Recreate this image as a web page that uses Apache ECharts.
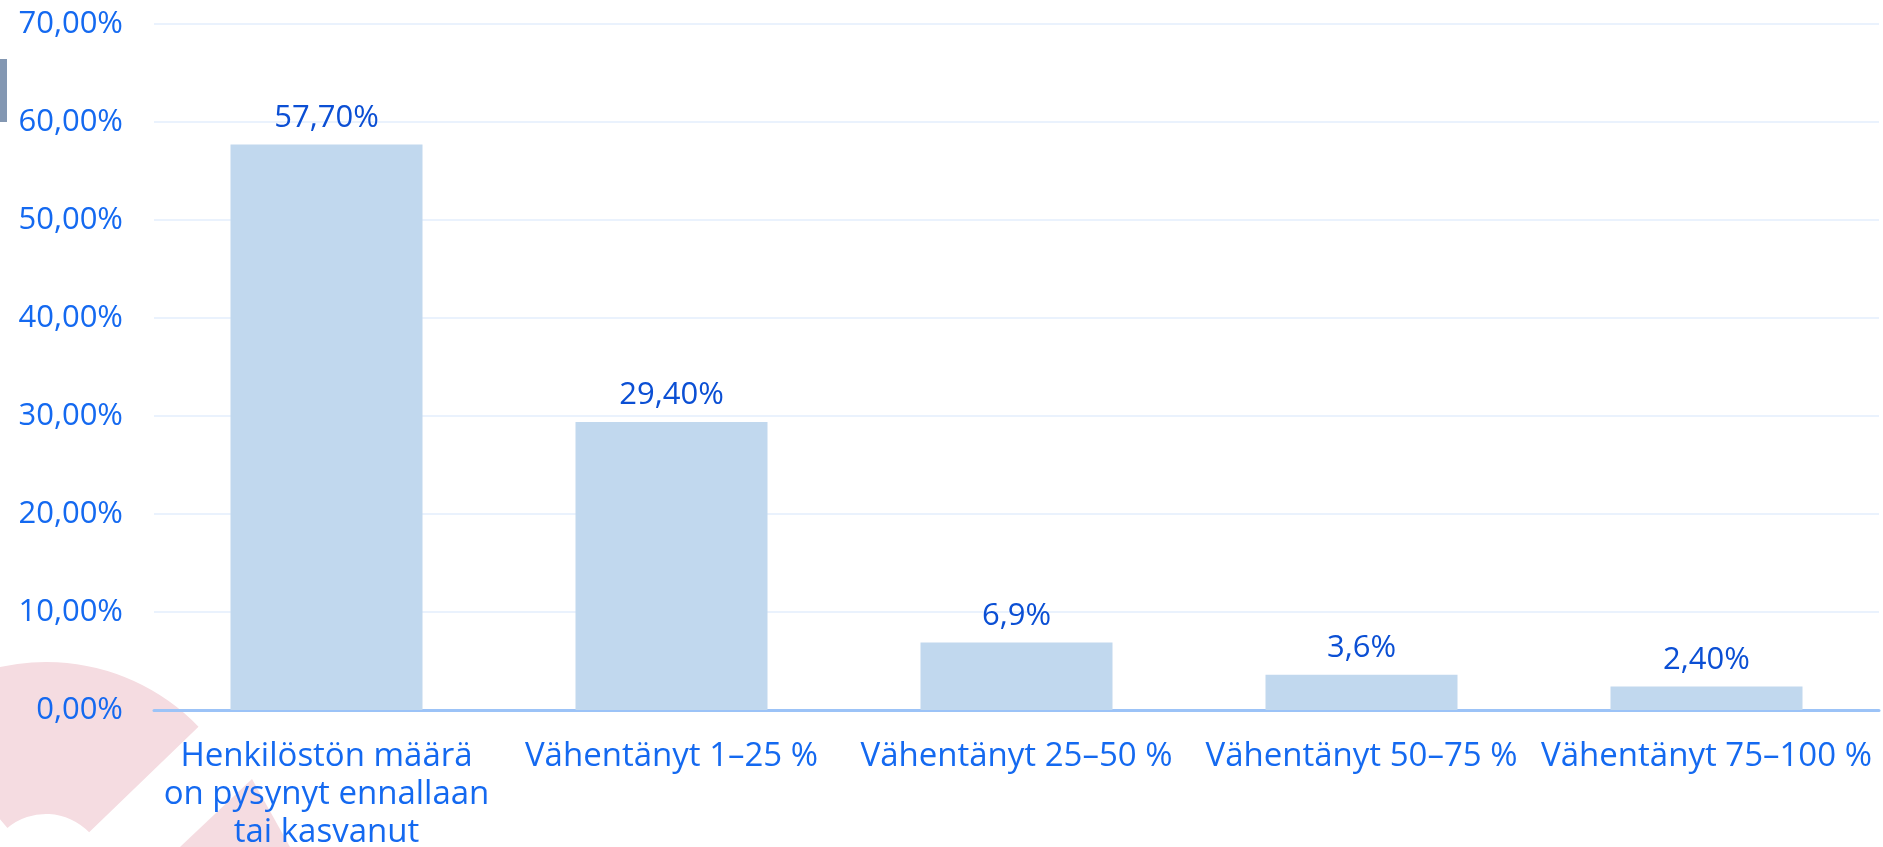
<!DOCTYPE html>
<html>
<head>
<meta charset="utf-8">
<script src="https://cdn.jsdelivr.net/npm/echarts@6/dist/echarts.min.js"></script>
<style>
html, body { margin: 0; padding: 0; background: #fff; }
#chart { width: 1883px; height: 847px; }
</style>
</head>
<body>
<div id="chart"></div>
<script>
// henkilöstön määrän muutos
var categories = [
    'Henkilöstön määrä\non pysynyt ennallaan\ntai kasvanut',
    'Vähentänyt 1–25 %',
    'Vähentänyt 25–50 %',
    'Vähentänyt 50–75 %',
    'Vähentänyt 75–100 %'
];
var values = [57.7, 29.4, 6.9, 3.6, 2.4];
var valueLabels = ['57,70%', '29,40%', '6,9%', '3,6%', '2,40%'];

var FONT = '"Open Sans", sans-serif';

var option = {
    animation: false,
    backgroundColor: '#ffffff',
    grid: {
        left: 154,
        right: 4,
        top: 24,
        bottom: 137,
        containLabel: false,
        outerBoundsMode: 'none'
    },
    // taustan koristeet
    graphic: [
        {
            type: 'sector',
            z: -10,
            shape: {
                cx: 46, cy: 874, r: 212, r0: 60,
                startAngle: -130 * Math.PI / 180,
                endAngle: -44 * Math.PI / 180
            },
            style: {fill: '#f5dce1'}
        },
        {
            type: 'polygon',
            z: -10,
            shape: {points: [[180, 847], [252, 779], [290, 847]]},
            style: {fill: '#f5dce1'}
        },
        {
            type: 'rect',
            z: -10,
            shape: {x: 0, y: 59, width: 7, height: 63},
            style: {fill: '#8397b2'}
        }
    ],
    xAxis: {
        type: 'category',
        data: categories,
        axisLine: {lineStyle: {color: '#9cc3f7', width: 3}},
        axisTick: {show: false},
        axisLabel: {
            interval: 0,
            margin: 28,
            color: '#1469f0',
            fontFamily: FONT,
            fontSize: 33,
            lineHeight: 38
        }
    },
    yAxis: {
        type: 'value',
        min: 0,
        max: 70,
        interval: 10,
        axisLine: {show: false},
        axisTick: {show: false},
        splitLine: {lineStyle: {color: '#eaf2fd', width: 2}},
        axisLabel: {
            margin: 31,
            color: '#1469f0',
            fontFamily: FONT,
            fontSize: 31,
            formatter: function (v) {
                return v.toFixed(2).replace('.', ',') + '%';
            }
        }
    },
    series: [
        {
            type: 'bar',
            data: values,
            barWidth: 192,
            itemStyle: {color: '#c1d8ee'},
            label: {
                show: true,
                position: 'top',
                distance: 11,
                color: '#0b4fd4',
                fontFamily: FONT,
                fontSize: 31,
                formatter: function (p) {
                    return valueLabels[p.dataIndex];
                }
            }
        }
    ]
};

var chart = echarts.init(document.getElementById('chart'));
chart.setOption(option);
</script>
</body>
</html>
